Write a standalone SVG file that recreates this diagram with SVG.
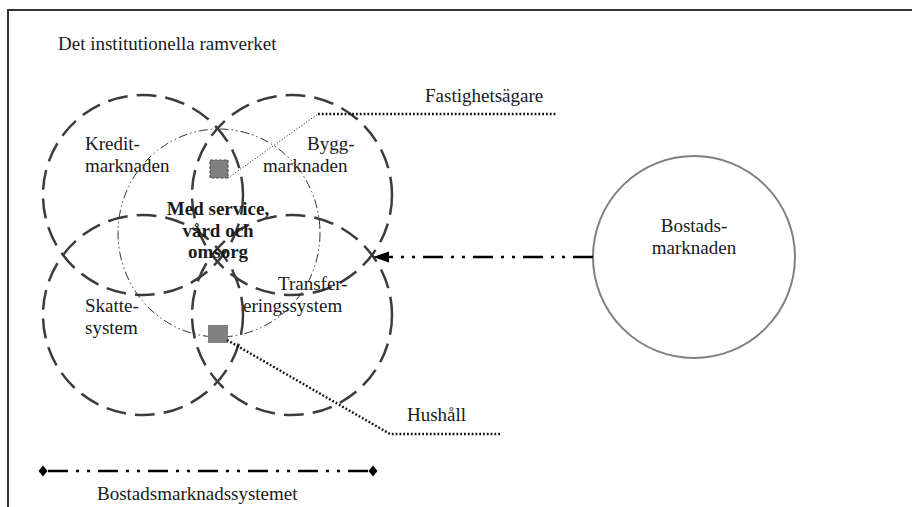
<svg xmlns="http://www.w3.org/2000/svg" width="912" height="507" viewBox="0 0 912 507">
  <style>
    text { font-family: "Liberation Serif", "Times New Roman", serif; font-size: 19px; fill: #1a1a1a; }
    .bold { font-weight: bold; }
    .mid { text-anchor: middle; }
    .end { text-anchor: end; }
    .domain { fill: none; stroke: #3c3c3c; stroke-width: 2.5; stroke-dasharray: 20 9; }
    .core { fill: none; stroke: #333; stroke-width: 1; stroke-dasharray: 9 3 1.5 3 1.5 3; }
    .leader-thin { fill: none; stroke: #111; stroke-width: 1; stroke-dasharray: 1 2; }
    .leader { fill: none; stroke: #111; stroke-width: 2.4; stroke-dasharray: 1.8 2; }
    .flow { fill: none; stroke: #000; stroke-width: 2.5; stroke-dasharray: 20 8 3 8 3 8; }
    .actor { fill: #808080; }
  </style>

  <!-- outer frame (open on the right and bottom) -->
  <path d="M8,507 V10 H912" fill="none" stroke="#333" stroke-width="2"/>

  <text x="58" y="50">Det institutionella ramverket</text>

  <!-- institutional domains -->
  <g id="kreditmarknaden">
    <circle class="domain" cx="143" cy="195" r="100"/>
    <text x="85" y="150">Kredit-</text>
    <text x="85" y="172">marknaden</text>
  </g>
  <g id="byggmarknaden">
    <circle class="domain" cx="292" cy="195" r="100"/>
    <text x="307" y="150">Bygg-</text>
    <text x="263" y="172">marknaden</text>
  </g>
  <g id="skattesystem">
    <circle class="domain" cx="143" cy="315" r="100"/>
    <text x="85" y="312">Skatte-</text>
    <text x="85" y="334">system</text>
  </g>
  <g id="transfereringssystem">
    <circle class="domain" cx="292" cy="315" r="100"/>
    <text x="278" y="290">Transfer-</text>
    <text x="243" y="312">eringssystem</text>
  </g>

  <!-- care and service core -->
  <g id="service">
    <ellipse class="core" cx="219" cy="233" rx="101" ry="104"/>
    <text class="bold mid" x="218" y="215">Med service,</text>
    <text class="bold mid" x="218" y="237">vård och</text>
    <text class="bold mid" x="218" y="258">omsorg</text>
  </g>

  <!-- actors -->
  <g id="fastighetsagare">
    <rect class="actor" x="210" y="160" width="18" height="18" stroke="#555" stroke-width="1.2" stroke-dasharray="3 1.5"/>
    <text x="425" y="102">Fastighetsägare</text>
  </g>
  <g id="hushall">
    <rect class="actor" x="208" y="325" width="20" height="18"/>
    <text x="407" y="421">Hushåll</text>
  </g>

  <g id="bostadsmarknaden">
    <circle cx="694" cy="257" r="101" fill="#fff" stroke="#808080" stroke-width="2"/>
    <text class="mid" x="694" y="232">Bostads-</text>
    <text class="mid" x="694" y="254">marknaden</text>
  </g>

  <!-- connectors -->
  <g id="connectors">
    <polyline class="leader-thin" points="228,178 318,114"/>
    <line class="leader" x1="318" y1="114" x2="557" y2="114"/>
    <polyline class="leader" points="227,340 390,434 502,434"/>
    <line class="flow" x1="593" y1="257" x2="386" y2="257"/>
    <polygon points="373,257 389,251.5 389,262.5" fill="#000"/>
  </g>

  <!-- system boundary legend -->
  <g id="bostadsmarknadssystemet">
    <line class="flow" x1="48" y1="471" x2="368" y2="471" stroke-dasharray="17 7 3 7 3 7"/>
    <polygon points="43,465.5 47.5,471 43,476.5 38.5,471" fill="#000"/>
    <polygon points="373,465.5 377.5,471 373,476.5 368.5,471" fill="#000"/>
    <text x="97" y="500">Bostadsmarknadssystemet</text>
  </g>
</svg>
